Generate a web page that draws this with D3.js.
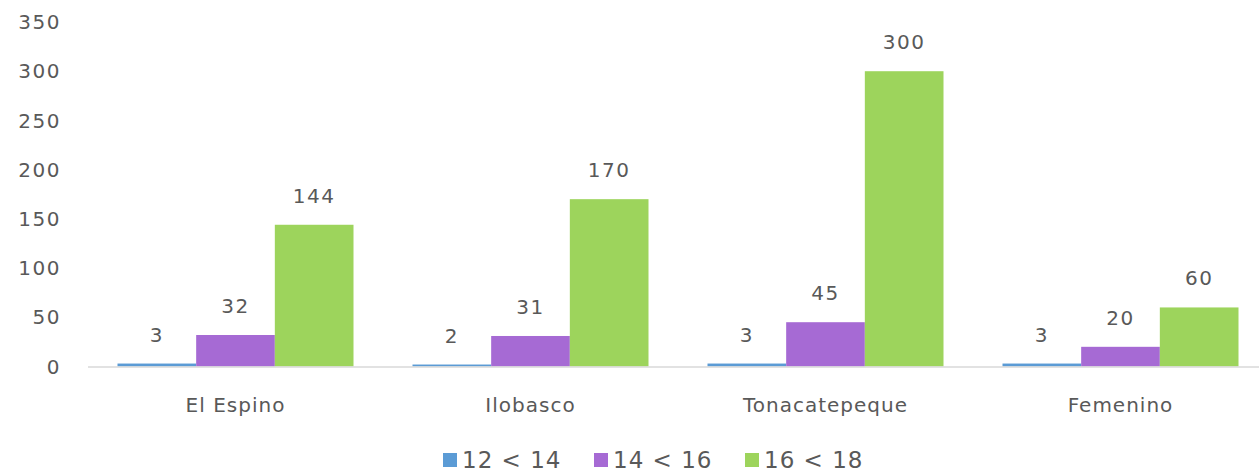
<!DOCTYPE html>
<html>
<head>
<meta charset="utf-8">
<script src="https://cdn.jsdelivr.net/npm/d3@7"></script>
<style>
  body { margin: 0; background: #fff; }
  text { font-family: "DejaVu Sans", sans-serif; fill: #595959; }
</style>
</head>
<body>
<div id="chart"></div>
<script>
var width = 1259;
var height = 473;

var categories = ["El Espino", "Ilobasco", "Tonacatepeque", "Femenino"];
var series = ["12 < 14", "14 < 16", "16 < 18"];
var ageA = [3, 2, 3, 3];
var ageB = [32, 31, 45, 20];
var ageC = [144, 170, 300, 60];
var yTicks = [0, 50, 100, 150, 200, 250, 300, 350];
var colors = ["#5b9bd5", "#a66ad4", "#9dd45c"];

var values = [ageA, ageB, ageC];
var rows = categories.map(function(c, i) {
  return { cat: c, vals: series.map(function(s, j) { return { s: s, j: j, v: values[j][i] }; }) };
});

var svg = d3.select("#chart").append("svg")
    .attr("width", width)
    .attr("height", height);

var x0 = d3.scaleBand()
    .domain(categories)
    .range([88, 1268])
    .paddingInner(0.2)
    .paddingOuter(0.1);

var x1 = d3.scaleBand()
    .domain(series)
    .range([0, x0.bandwidth()]);

var y = d3.scaleLinear()
    .domain([0, 350])
    .range([366.5, 22]);

// y tick labels (no axis line, no grid)
svg.append("g")
    .selectAll("text")
    .data(yTicks)
  .enter().append("text")
    .attr("x", 61)
    .attr("y", function(d) { return y(d); })
    .attr("dy", "0.36em")
    .attr("text-anchor", "end")
    .style("font-size", "20px")
    .style("letter-spacing", "1.5px")
    .text(function(d) { return d; });

var groups = svg.append("g")
    .selectAll("g")
    .data(rows)
  .enter().append("g")
    .attr("transform", function(d) { return "translate(" + x0(d.cat) + ",0)"; });

groups.selectAll("rect")
    .data(function(d) { return d.vals; })
  .enter().append("rect")
    .attr("x", function(d) { return x1(d.s); })
    .attr("y", function(d) { return y(d.v); })
    .attr("width", x1.bandwidth())
    .attr("height", function(d) { return y(0) - y(d.v); })
    .attr("fill", function(d) { return colors[d.j]; });

groups.selectAll("text.val")
    .data(function(d) { return d.vals; })
  .enter().append("text")
    .attr("class", "val")
    .attr("x", function(d) { return x1(d.s) + x1.bandwidth() / 2; })
    .attr("y", function(d) { return y(d.v) - 22; })
    .attr("text-anchor", "middle")
    .style("font-size", "20px")
    .style("letter-spacing", "1.5px")
    .text(function(d) { return d.v; });

// baseline
svg.append("line")
    .attr("x1", 88)
    .attr("x2", width)
    .attr("y1", y(0) + 0.5)
    .attr("y2", y(0) + 0.5)
    .attr("stroke", "#d9d9d9")
    .attr("stroke-width", 1.5);

// category labels
var xAxis = svg.append("g")
    .attr("transform", "translate(0," + y(0) + ")")
    .call(d3.axisBottom(x0).tickSize(0).tickPadding(0));
xAxis.select(".domain").remove();
xAxis.selectAll("text")
    .attr("y", 45)
    .attr("dy", 0)
    .style("font-size", "20px")
    .style("letter-spacing", "1px")
    .style("fill", "#595959");

// legend
var legendX = [443, 594, 745];
var legend = svg.append("g")
    .selectAll("g")
    .data(series)
  .enter().append("g")
    .attr("transform", function(d, i) { return "translate(" + legendX[i] + ",453)"; });

legend.append("rect")
    .attr("width", 14)
    .attr("height", 14)
    .attr("fill", function(d, i) { return colors[i]; });

legend.append("text")
    .attr("x", 19)
    .attr("y", 15)
    .style("font-size", "23px")
    .style("letter-spacing", "1px")
    .text(function(d) { return d; });
</script>
</body>
</html>
